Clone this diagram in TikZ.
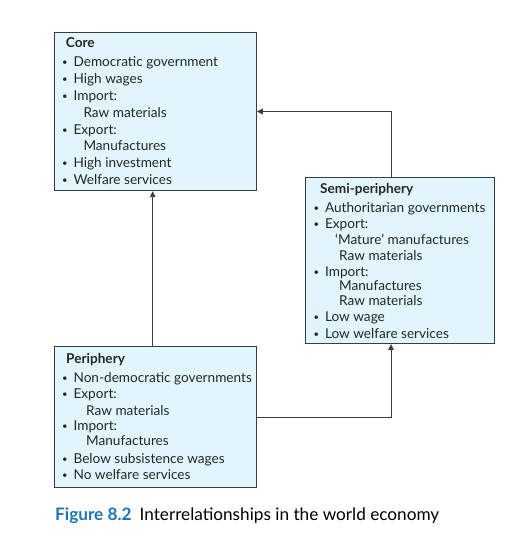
\documentclass[tikz,border=0pt]{standalone}
\usepackage{fontspec}
\setmainfont{Lato}
\usetikzlibrary{arrows.meta}
\definecolor{boxfill}{HTML}{E1F5FC}
\definecolor{boxline}{HTML}{3C3C3C}
\definecolor{capblue}{HTML}{1B75BB}
\newcommand{\bl}{\makebox[11.4pt][l]{\raisebox{1pt}{\fontsize{9.5}{10}\selectfont •}}}
\begin{document}
\begin{tikzpicture}[x=1pt,y=-1pt,
  box/.style={draw=boxline,fill=boxfill,line width=0.9pt,inner sep=0pt,rectangle},
  txt/.style={anchor=base west,inner sep=0pt,font=\fontsize{13.6}{15}\selectfont,text=black!85},
  ttl/.style={txt,font=\fontsize{13.6}{15}\selectfont\bfseries},
  arr/.style={draw=boxline,line width=0.9pt,-{Triangle[length=6pt,width=5.5pt]}}]
\useasboundingbox (0,0) rectangle (510,536);
% boxes
\node[box,minimum width=201.6pt,minimum height=158.4pt] (core) at (155.5,111.5) {};
\node[box,minimum width=188.8pt,minimum height=165.8pt] (semi) at (400.1,260.6) {};
\node[box,minimum width=202pt,minimum height=141pt] (peri) at (155.7,417.2) {};
% connectors
\draw[arr] ([xshift=-3pt]peri.north) -- ([xshift=-3pt]peri.north |- core.south);
\draw[arr] ([xshift=-8.4pt]semi.north) |- (core.east);
\draw[arr] (peri.east) -| ([xshift=-9.1pt]semi.south);
% core text
\node[ttl] (c0) at (65.7,47) {Core};
\node[txt] (c1) at (62,66) {\bl Democratic government};
\node[txt] (c2) at (62,83.3) {\bl High wages};
\node[txt] (c3) at (62,100.7) {\bl Import:};
\node[txt] (c4) at (83.3,117.3) {Raw materials};
\node[txt] (c5) at (62,134) {\bl Export:};
\node[txt] (c6) at (83.3,150) {Manufactures};
\node[txt] (c7) at (62,167.3) {\bl High investment};
\node[txt] (c8) at (62,184) {\bl Welfare services};
% semi text
\node[ttl] (s0) at (320,193.3) {Semi-periphery};
\node[txt] (s1) at (313.5,212.3) {\bl Authoritarian governments};
\node[txt] (s2) at (313.5,228.3) {\bl Export:};
\node[txt] (s3) at (335,244) {‘Mature’ manufactures};
\node[txt] (s4) at (339,260.7) {Raw materials};
\node[txt] (s5) at (313.5,276.7) {\bl Import:};
\node[txt] (s6) at (339,290) {Manufactures};
\node[txt] (s7) at (339,305) {Raw materials};
\node[txt] (s8) at (313.5,321.7) {\bl Low wage};
\node[txt] (s9) at (313.5,338.3) {\bl Low welfare services};
% periphery text
\node[ttl] (p0) at (66,363.3) {Periphery};
\node[txt] (p1) at (62,382.3) {\bl Non-democratic governments};
\node[txt] (p2) at (62,398.3) {\bl Export:};
\node[txt] (p3) at (86,415) {Raw materials};
\node[txt] (p4) at (62,430.7) {\bl Import:};
\node[txt] (p5) at (86,445.7) {Manufactures};
\node[txt] (p6) at (62,463.3) {\bl Below subsistence wages};
\node[txt] (p7) at (62,479.3) {\bl No welfare services};
% caption
\node[anchor=base west,inner sep=0pt,font=\fontsize{17.2}{20}\selectfont] (cap) at (55,520)
  {\textcolor{capblue}{\bfseries Figure 8.2}\hspace{8pt}Interrelationships in the world economy};
\end{tikzpicture}
\end{document}
